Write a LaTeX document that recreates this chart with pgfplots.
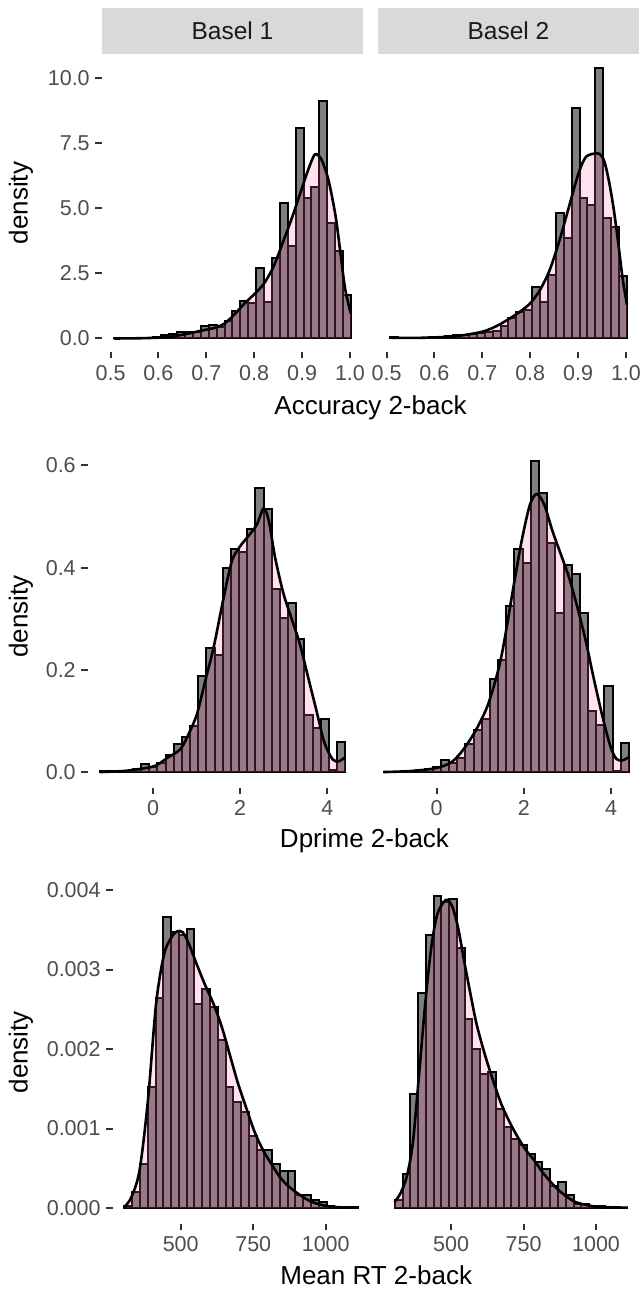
\documentclass[border=0pt]{standalone}
\usepackage{fontspec}
\setmainfont{Liberation Sans}
\usepackage{pgfplots}
\pgfplotsset{compat=1.18}
\definecolor{histgrey}{RGB}{127,127,127}
\definecolor{denspink}{RGB}{255,105,180}
\definecolor{ticklab}{RGB}{77,77,77}
\definecolor{tickmark}{RGB}{51,51,51}
\definecolor{stripfill}{RGB}{217,217,217}
\definecolor{striptext}{RGB}{26,26,26}

\pgfplotsset{
  panel/.style={
    scale only axis, anchor=south west,
    axis line style={draw=none},
    tick align=outside, major tick length=6.5pt,
    tick style={tickmark, line width=2pt},
    xtick pos=bottom, ytick pos=left,
    scaled ticks=false,
    ticklabel style={font=\fontsize{21.5}{24}\selectfont, text=ticklab, inner sep=0pt},
    xticklabel shift=6.5pt, yticklabel shift=5.5pt,
  },
  bars/.style={ybar interval, fill=histgrey, draw=black, line width=2pt},
  densfill/.style={draw=none, fill=denspink, fill opacity=0.2, smooth},
  densline/.style={black, line width=2.6pt, smooth},
}
\newcommand\titlefont{\fontsize{26}{30}\selectfont}

\begin{document}
\begin{tikzpicture}[x=1pt,y=1pt]

% ---------- row 1: accuracy ----------
\begin{axis}[panel, at={(101.9pt,937pt)}, width=261pt, height=298.2pt,
  xmin=0.482, xmax=1.027, ymin=-0.52, ymax=10.95,
  xtick={0.5,0.6,0.7,0.8,0.9,1.0}, xticklabels={0.5,0.6,0.7,0.8,0.9,1.0},
  ytick={0,2.5,5,7.5,10}, yticklabels={0.0,2.5,5.0,7.5,10.0}]
\addplot[bars] coordinates {
(0.5070,0.02) (0.5235,0) (0.5400,0) (0.5565,0) (0.5730,0) (0.5895,0.05)
(0.6060,0.13) (0.6225,0.17) (0.6390,0.26) (0.6555,0.26) (0.6720,0.24)
(0.6885,0.47) (0.7050,0.50) (0.7215,0.43) (0.7380,0.68) (0.7545,1.05)
(0.7710,1.46) (0.7875,1.38) (0.8040,2.70) (0.8205,1.40) (0.8370,3.10)
(0.8535,5.20) (0.8700,3.55) (0.8865,8.10) (0.9030,5.40) (0.9195,5.82)
(0.9360,9.13) (0.9525,4.46) (0.9690,3.38) (0.9855,1.68) (1.0020,0)};
\addplot[densfill] coordinates {
(0.507,0.0) (0.55,0.005) (0.6,0.03) (0.63,0.08) (0.66,0.18) (0.69,0.3)
(0.72,0.42) (0.74,0.6) (0.76,0.95) (0.78,1.35) (0.80,1.7) (0.82,2.1)
(0.84,2.75) (0.86,3.7) (0.88,4.7) (0.90,5.8) (0.915,6.6) (0.927,7.08)
(0.94,6.9) (0.955,6.1) (0.97,4.7) (0.98,3.3) (0.99,1.9) (1.002,0.95)} \closedcycle;
\addplot[densline] coordinates {
(0.507,0.0) (0.55,0.005) (0.6,0.03) (0.63,0.08) (0.66,0.18) (0.69,0.3)
(0.72,0.42) (0.74,0.6) (0.76,0.95) (0.78,1.35) (0.80,1.7) (0.82,2.1)
(0.84,2.75) (0.86,3.7) (0.88,4.7) (0.90,5.8) (0.915,6.6) (0.927,7.08)
(0.94,6.9) (0.955,6.1) (0.97,4.7) (0.98,3.3) (0.99,1.9) (1.002,0.95)};
\end{axis}

\begin{axis}[panel, at={(377.9pt,937pt)}, width=261pt, height=298.2pt,
  xmin=0.482, xmax=1.027, ymin=-0.52, ymax=10.95,
  xtick={0.5,0.6,0.7,0.8,0.9,1.0}, xticklabels={0.5,0.6,0.7,0.8,0.9,1.0},
  ytick=\empty]
\addplot[bars] coordinates {
(0.5070,0.05) (0.5235,0.02) (0.5400,0.02) (0.5565,0.02) (0.5730,0.03) (0.5895,0.04)
(0.6060,0.06) (0.6225,0.09) (0.6390,0.13) (0.6555,0.15) (0.6720,0.16)
(0.6885,0.22) (0.7050,0.26) (0.7215,0.27) (0.7380,0.48) (0.7545,0.77)
(0.7710,1.00) (0.7875,1.10) (0.8040,1.98) (0.8205,1.40) (0.8370,2.43)
(0.8535,4.83) (0.8700,3.85) (0.8865,8.88) (0.9030,5.40) (0.9195,5.15)
(0.9360,10.42) (0.9525,4.62) (0.9690,4.29) (0.9855,2.42) (1.0020,0)};
\addplot[densfill] coordinates {
(0.507,0.03) (0.55,0.02) (0.6,0.04) (0.65,0.1) (0.7,0.26) (0.73,0.48)
(0.76,0.8) (0.78,1.05) (0.80,1.35) (0.82,1.85) (0.84,2.6) (0.86,3.7)
(0.88,5.0) (0.90,6.3) (0.915,6.95) (0.93,7.1) (0.945,7.1) (0.955,6.8)
(0.965,6.0) (0.975,4.9) (0.985,3.5) (0.993,2.3) (1.002,1.3)} \closedcycle;
\addplot[densline] coordinates {
(0.507,0.03) (0.55,0.02) (0.6,0.04) (0.65,0.1) (0.7,0.26) (0.73,0.48)
(0.76,0.8) (0.78,1.05) (0.80,1.35) (0.82,1.85) (0.84,2.6) (0.86,3.7)
(0.88,5.0) (0.90,6.3) (0.915,6.95) (0.93,7.1) (0.945,7.1) (0.955,6.8)
(0.965,6.0) (0.975,4.9) (0.985,3.5) (0.993,2.3) (1.002,1.3)};
\end{axis}

\fill[stripfill] (101.9,1235.2) rectangle (362.9,1281);
\fill[stripfill] (377.9,1235.2) rectangle (639.2,1281);
\node[text=striptext, font=\fontsize{24.5}{28}\selectfont] at (232.4,1258.1) {Basel 1};
\node[text=striptext, font=\fontsize{24.5}{28}\selectfont] at (508.5,1258.1) {Basel 2};
\node[anchor=base, font=\titlefont] at (370.5,874.7) {Accuracy 2-back};
\node[rotate=90, font=\titlefont] at (21,1086) {density};

% ---------- row 2: dprime ----------
\begin{axis}[panel, at={(87.9pt,501.4pt)}, width=269.6pt, height=341.8pt,
  xmin=-1.494, xmax=4.691, ymin=-0.0304, ymax=0.6384,
  xtick={0,2,4}, xticklabels={0,2,4},
  ytick={0,0.2,0.4,0.6}, yticklabels={0.0,0.2,0.4,0.6}]
\addplot[bars] coordinates {
(-1.2130,0.003) (-1.0256,0.002) (-0.8381,0.002) (-0.6507,0.003) (-0.4633,0.006)
(-0.2758,0.016) (-0.0884,0.010) (0.0990,0.018) (0.2864,0.033) (0.4739,0.055)
(0.6613,0.068) (0.8487,0.091) (1.0362,0.187) (1.2236,0.242) (1.4110,0.229)
(1.5985,0.400) (1.7859,0.437) (1.9733,0.430) (2.1607,0.475) (2.3482,0.556)
(2.5356,0.514) (2.7230,0.358) (2.9105,0.302) (3.0979,0.330) (3.2853,0.260)
(3.4728,0.112) (3.6602,0.086) (3.8476,0.104) (4.0350,0.005) (4.2225,0.058) (4.4099,0)};
\addplot[densfill] coordinates {
(-1.22,0.0) (-0.69,0.002) (-0.22,0.007) (0.07,0.013) (0.35,0.029) (0.63,0.045)
(0.82,0.075) (1.01,0.114) (1.2,0.179) (1.39,0.244) (1.62,0.341) (1.81,0.413)
(2.0,0.442) (2.19,0.462) (2.38,0.484) (2.54,0.516) (2.66,0.49) (2.8,0.42)
(2.99,0.35) (3.18,0.30) (3.37,0.25) (3.56,0.185) (3.75,0.12) (3.93,0.058)
(4.12,0.025) (4.26,0.021) (4.41,0.029)} \closedcycle;
\addplot[densline] coordinates {
(-1.22,0.0) (-0.69,0.002) (-0.22,0.007) (0.07,0.013) (0.35,0.029) (0.63,0.045)
(0.82,0.075) (1.01,0.114) (1.2,0.179) (1.39,0.244) (1.62,0.341) (1.81,0.413)
(2.0,0.442) (2.19,0.462) (2.38,0.484) (2.54,0.516) (2.66,0.49) (2.8,0.42)
(2.99,0.35) (3.18,0.30) (3.37,0.25) (3.56,0.185) (3.75,0.12) (3.93,0.058)
(4.12,0.025) (4.26,0.021) (4.41,0.029)};
\end{axis}

\begin{axis}[panel, at={(371.5pt,501.4pt)}, width=269.6pt, height=341.8pt,
  xmin=-1.494, xmax=4.691, ymin=-0.0304, ymax=0.6384,
  xtick={0,2,4}, xticklabels={0,2,4}, ytick=\empty]
\addplot[bars] coordinates {
(-1.2130,0.001) (-1.0256,0.001) (-0.8381,0.001) (-0.6507,0.002) (-0.4633,0.0045)
(-0.2758,0.0065) (-0.0884,0.010) (0.0990,0.023) (0.2864,0.018) (0.4739,0.028)
(0.6613,0.054) (0.8487,0.083) (1.0362,0.104) (1.2236,0.182) (1.4110,0.219)
(1.5985,0.325) (1.7859,0.436) (1.9733,0.410) (2.1607,0.608) (2.3482,0.546)
(2.5356,0.449) (2.7230,0.312) (2.9105,0.406) (3.0979,0.387) (3.2853,0.311)
(3.4728,0.120) (3.6602,0.093) (3.8476,0.169) (4.0350,0.003) (4.2225,0.057) (4.4099,0)};
\addplot[densfill] coordinates {
(-1.22,0.0) (-0.59,0.002) (0,0.008) (0.35,0.02) (0.63,0.046) (0.92,0.085)
(1.2,0.137) (1.48,0.224) (1.76,0.361) (1.95,0.452) (2.14,0.523) (2.3,0.544)
(2.47,0.523) (2.66,0.471) (2.85,0.426) (3.04,0.38) (3.23,0.322) (3.42,0.257)
(3.6,0.185) (3.79,0.114) (3.98,0.052) (4.12,0.026) (4.26,0.023) (4.41,0.029)} \closedcycle;
\addplot[densline] coordinates {
(-1.22,0.0) (-0.59,0.002) (0,0.008) (0.35,0.02) (0.63,0.046) (0.92,0.085)
(1.2,0.137) (1.48,0.224) (1.76,0.361) (1.95,0.452) (2.14,0.523) (2.3,0.544)
(2.47,0.523) (2.66,0.471) (2.85,0.426) (3.04,0.38) (3.23,0.322) (3.42,0.257)
(3.6,0.185) (3.79,0.114) (3.98,0.052) (4.12,0.026) (4.26,0.023) (4.41,0.029)};
\end{axis}

\node[anchor=base, font=\titlefont] at (364.5,441.7) {Dprime 2-back};
\node[rotate=90, font=\titlefont] at (21,672.3) {density};

% ---------- row 3: mean RT ----------
\begin{axis}[panel, at={(112.8pt,65.4pt)}, width=256.5pt, height=342.8pt,
  xmin=265.8, xmax=1150.2, ymin=-0.000196, ymax=0.004116,
  xtick={500,750,1000}, xticklabels={500,750,1000},
  ytick={0,0.001,0.002,0.003,0.004}, yticklabels={0.000,0.001,0.002,0.003,0.004}]
\addplot[bars] coordinates {
(306,0.00003) (332.8,0.00020) (359.6,0.00055) (386.4,0.00152) (413.2,0.00264)
(440,0.00366) (466.8,0.00347) (493.6,0.00343) (520.4,0.00351) (547.2,0.00257)
(574,0.00276) (600.8,0.00253) (627.6,0.00211) (654.4,0.00152) (681.2,0.00133)
(708,0.00121) (734.8,0.00091) (761.6,0.00073) (788.4,0.00073) (815.2,0.00055)
(842,0.00047) (868.8,0.00047) (895.6,0.00016) (922.4,0.00016) (949.2,0.00010)
(976,0.00008) (1002.8,0.00003) (1029.6,0.00001) (1056.4,0.00001) (1083.2,0.00001) (1110,0)};
\addplot[densfill] coordinates {
(306,0.000013) (330,0.000138) (358,0.000473) (387,0.001353) (415,0.002567)
(443,0.003196) (472,0.003426) (489,0.003481) (507,0.003468) (528,0.003322)
(557,0.003049) (585,0.002798) (613,0.002568) (642,0.002274) (670,0.001918)
(698,0.001562) (727,0.001248) (755,0.000955) (783,0.000733) (812,0.000557)
(840,0.000398) (868,0.000285) (897,0.000201) (925,0.00013) (953,0.000075)
(982,0.000042) (1010,0.000021) (1052,0.000008) (1110,0.000004)} \closedcycle;
\addplot[densline] coordinates {
(306,0.000013) (330,0.000138) (358,0.000473) (387,0.001353) (415,0.002567)
(443,0.003196) (472,0.003426) (489,0.003481) (507,0.003468) (528,0.003322)
(557,0.003049) (585,0.002798) (613,0.002568) (642,0.002274) (670,0.001918)
(698,0.001562) (727,0.001248) (755,0.000955) (783,0.000733) (812,0.000557)
(840,0.000398) (868,0.000285) (897,0.000201) (925,0.00013) (953,0.000075)
(982,0.000042) (1010,0.000021) (1052,0.000008) (1110,0.000004)};
\end{axis}

\begin{axis}[panel, at={(383.1pt,65.4pt)}, width=256.5pt, height=342.8pt,
  xmin=265.8, xmax=1150.2, ymin=-0.000196, ymax=0.004116,
  xtick={500,750,1000}, xticklabels={500,750,1000}, ytick=\empty]
\addplot[bars] coordinates {
(306,0.00010) (332.8,0.00043) (359.6,0.00144) (386.4,0.00271) (413.2,0.00343)
(440,0.00392) (466.8,0.00385) (493.6,0.00389) (520.4,0.00327) (547.2,0.00238)
(574,0.00200) (600.8,0.00169) (627.6,0.00171) (654.4,0.00125) (681.2,0.00102)
(708,0.00087) (734.8,0.00079) (761.6,0.00068) (788.4,0.00058) (815.2,0.00049)
(842,0.00028) (868.8,0.00033) (895.6,0.00016) (922.4,0.00005) (949.2,0.00005)
(976,0.00003) (1002.8,0.00002) (1029.6,0.00001) (1056.4,0.00001) (1083.2,0.0) (1110,0)};
\addplot[densfill] coordinates {
(305,0.000075) (325,0.00018) (347,0.00039) (368,0.000808) (389,0.001646)
(411,0.002568) (432,0.00328) (453,0.003698) (482,0.003874) (503,0.003803)
(524,0.003531) (545,0.003112) (567,0.002693) (588,0.002316) (616,0.001939)
(645,0.001604) (673,0.001311) (702,0.001081) (730,0.000892) (759,0.000725)
(787,0.000599) (815,0.000452) (844,0.000327) (872,0.000222) (901,0.000138)
(929,0.000075) (972,0.000034) (1014,0.000013) (1110,0.000004)} \closedcycle;
\addplot[densline] coordinates {
(305,0.000075) (325,0.00018) (347,0.00039) (368,0.000808) (389,0.001646)
(411,0.002568) (432,0.00328) (453,0.003698) (482,0.003874) (503,0.003803)
(524,0.003531) (545,0.003112) (567,0.002693) (588,0.002316) (616,0.001939)
(645,0.001604) (673,0.001311) (702,0.001081) (730,0.000892) (759,0.000725)
(787,0.000599) (815,0.000452) (844,0.000327) (872,0.000222) (901,0.000138)
(929,0.000075) (972,0.000034) (1014,0.000013) (1110,0.000004)};
\end{axis}

\node[anchor=base, font=\titlefont] at (376.2,4.7) {Mean RT 2-back};
\node[rotate=90, font=\titlefont] at (21,236.8) {density};

\pgfresetboundingbox
\useasboundingbox (0,0) rectangle (642,1289);
\end{tikzpicture}
\end{document}
